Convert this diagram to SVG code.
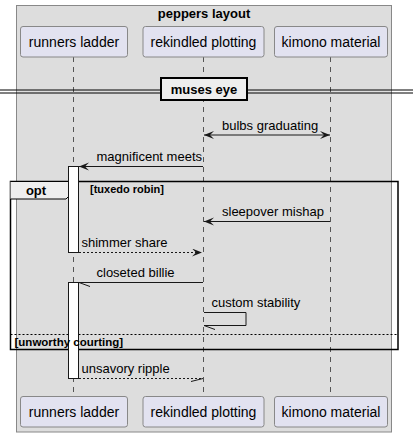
<svg xmlns="http://www.w3.org/2000/svg" width="413" height="437" viewBox="0 0 413 437">
<style>
text{font-family:"Liberation Sans",Arial,sans-serif;fill:#000}
.pname{font-size:14px;text-anchor:middle}
.msg{font-size:13px}
.bold{font-weight:bold}
.part{fill:#E2E2F0;stroke:#888;stroke-width:1}
.life{stroke:#555;stroke-width:1;stroke-dasharray:5,5;fill:none}
.line{stroke:#181818;stroke-width:1;fill:none}
.dash{stroke:#181818;stroke-width:1;fill:none;stroke-dasharray:2,2}
.act{fill:#fff;stroke:#181818;stroke-width:1}
</style>
<defs>
<marker id="arr" markerUnits="userSpaceOnUse" markerWidth="11" markerHeight="9" refX="10" refY="4" orient="auto-start-reverse" viewBox="0 0 11 9">
<path d="M0,0 L10,4 L0,8 L4,4 Z" fill="#181818"/>
</marker>
</defs>
<rect x="16.5" y="5.5" width="375" height="426.5" fill="#DDDDDD" stroke="#888" stroke-width="1"/>
<text x="204" y="18" class="msg bold" text-anchor="middle">peppers layout</text>
<g id="lifelines">
<line class="life" x1="73.5" y1="57" x2="73.5" y2="396"/>
<line class="life" x1="203.5" y1="57" x2="203.5" y2="396"/>
<line class="life" x1="330.5" y1="57" x2="330.5" y2="396"/>
</g>
<g id="runners-ladder">
<rect class="part" x="20.5" y="26.5" width="107" height="30.5" rx="2.5"/>
<text class="pname" x="74" y="46.5">runners ladder</text>
<rect class="part" x="20.5" y="396.5" width="107" height="30.5" rx="2.5"/>
<text class="pname" x="74" y="416.5">runners ladder</text>
</g>
<g id="rekindled-plotting">
<rect class="part" x="143" y="26.5" width="121" height="30.5" rx="2.5"/>
<text class="pname" x="203.5" y="46.5">rekindled plotting</text>
<rect class="part" x="143" y="396.5" width="121" height="30.5" rx="2.5"/>
<text class="pname" x="203.5" y="416.5">rekindled plotting</text>
</g>
<g id="kimono-material">
<rect class="part" x="274.5" y="26.5" width="113" height="30.5" rx="2.5"/>
<text class="pname" x="331" y="46.5">kimono material</text>
<rect class="part" x="274.5" y="396.5" width="113" height="30.5" rx="2.5"/>
<text class="pname" x="331" y="416.5">kimono material</text>
</g>
<g id="divider">
<line x1="0" y1="90" x2="413" y2="90" stroke="#000" stroke-width="1"/>
<line x1="0" y1="93" x2="413" y2="93" stroke="#000" stroke-width="1"/>
<rect x="161" y="78" width="86" height="22" fill="#EEEEEE" stroke="#000" stroke-width="2"/>
<text x="204" y="94" class="msg bold" text-anchor="middle">muses eye</text>
</g>
<g id="opt-frame">
<rect x="10.5" y="181.5" width="387.5" height="168" fill="none" stroke="#000" stroke-width="1.5"/>
<path d="M10.5,181.5 L76,181.5 L76,189 L66,199 L10.5,199" fill="#EEEEEE" stroke="#000" stroke-width="1"/>
<text x="36" y="195" class="msg bold" text-anchor="middle">opt</text>
<text x="90" y="193" class="bold" font-size="11">[tuxedo robin]</text>
<line x1="10.5" y1="334.5" x2="398" y2="334.5" stroke="#000" stroke-width="1" stroke-dasharray="2,2"/>
</g>
<g id="activations">
<rect class="act" x="68.5" y="166.5" width="10" height="86"/>
<rect class="act" x="68.5" y="282.5" width="10" height="96"/>
</g>
<text x="14.5" y="345.5" class="bold" font-size="11.5">[unworthy courting]</text>
<g id="connectors">
<line class="line" x1="204" y1="135" x2="330" y2="135" marker-start="url(#arr)" marker-end="url(#arr)"/>
<text class="msg" x="222" y="130">bulbs graduating</text>
<line class="line" x1="203" y1="166.5" x2="79" y2="166.5" marker-end="url(#arr)"/>
<text class="msg" x="96.5" y="160.5">magnificent meets</text>
<line class="line" x1="330" y1="221.5" x2="204" y2="221.5" marker-end="url(#arr)"/>
<text class="msg" x="222" y="215.5">sleepover mishap</text>
<line class="dash" x1="79" y1="252.5" x2="202" y2="252.5" marker-end="url(#arr)"/>
<text class="msg" x="81.5" y="246.5">shimmer share</text>
<line class="line" x1="203" y1="282.5" x2="79" y2="282.5"/>
<line class="line" x1="79" y1="282.5" x2="90" y2="286.5"/>
<text class="msg" x="96.5" y="277">closeted billie</text>
<path class="line" d="M204,312.5 L246,312.5 L246,325.5 L204,325.5"/>
<line class="line" x1="204" y1="325.5" x2="215" y2="329.5"/>
<text class="msg" x="211.5" y="307">custom stability</text>
<line class="dash" x1="79" y1="378.5" x2="203" y2="378.5"/>
<line class="line" x1="203" y1="378.5" x2="191" y2="381.5"/>
<text class="msg" x="81.5" y="373">unsavory ripple</text>
</g>
</svg>
